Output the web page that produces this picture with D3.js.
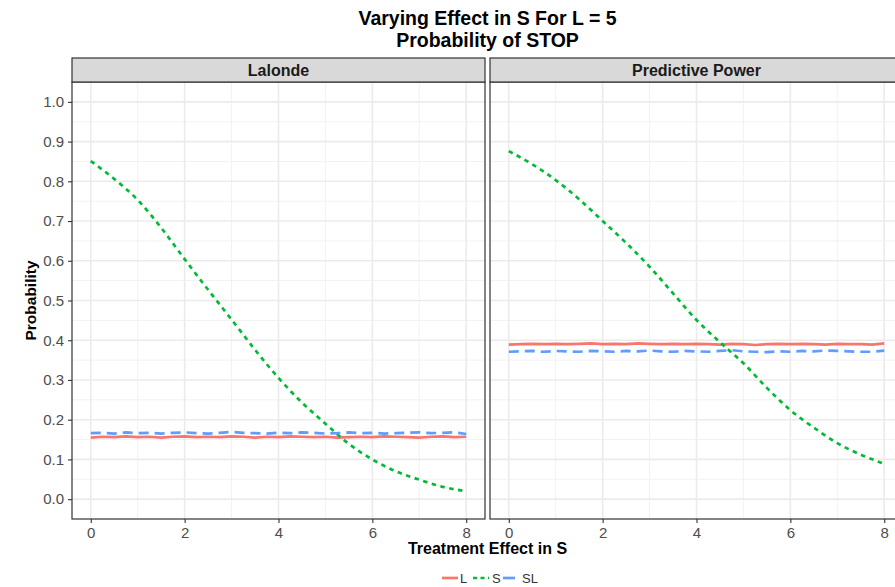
<!DOCTYPE html>
<html>
<head>
<meta charset="utf-8">
<script src="https://cdn.jsdelivr.net/npm/d3@7"></script>
<style>
  body { margin: 0; background: #fff; }
  svg { font-family: "Liberation Sans", Arial, sans-serif; display: block; }
</style>
</head>
<body>
<div id="chart"></div>
<script>
// facet names and legend categories
var facets = ["Lalonde", "Predictive Power"];
var seriesNames = ["L", "S", "SL"];

// x grid for the flat (noisy) series
var xFine = [0, 0.25, 0.5, 0.75, 1, 1.25, 1.5, 1.75, 2, 2.25, 2.5, 2.75, 3, 3.25, 3.5, 3.75,
  4, 4.25, 4.5, 4.75, 5, 5.25, 5.5, 5.75, 6, 6.25, 6.5, 6.75, 7, 7.25, 7.5, 7.75, 8];
// x grid for the S curves
var xS = [0, 0.5, 1, 1.5, 2, 2.5, 3, 3.5, 4, 4.5, 5, 5.5, 6, 6.5, 7, 7.5, 8];

// Lalonde
var lalL = [0.155,0.157,0.156,0.158,0.156,0.157,0.155,0.157,0.158,0.156,
  0.157,0.156,0.158,0.157,0.155,0.157,0.156,0.158,0.157,0.156,
  0.157,0.155,0.156,0.157,0.156,0.158,0.157,0.156,0.155,0.157,
  0.158,0.156,0.157];
var lalSL = [0.166,0.167,0.165,0.168,0.166,0.167,0.165,0.167,0.168,0.166,
  0.165,0.167,0.169,0.167,0.166,0.165,0.167,0.166,0.168,0.167,
  0.165,0.166,0.168,0.166,0.167,0.165,0.166,0.167,0.168,0.166,
  0.167,0.168,0.164];
var lalS = [0.851,0.806,0.753,0.683,0.604,0.527,0.452,0.376,0.305,0.243,0.190,0.139,0.100,0.070,0.049,0.031,0.020];

// Predictive Power
var ppL = [0.389,0.390,0.391,0.390,0.391,0.390,0.391,0.392,0.390,0.391,
  0.390,0.392,0.391,0.390,0.391,0.390,0.391,0.390,0.389,0.391,
  0.390,0.388,0.390,0.391,0.390,0.391,0.390,0.389,0.391,0.390,
  0.390,0.389,0.392];
var ppSL = [0.371,0.372,0.373,0.371,0.373,0.372,0.371,0.373,0.372,0.371,
  0.373,0.372,0.374,0.372,0.371,0.373,0.372,0.371,0.373,0.375,
  0.372,0.371,0.370,0.372,0.371,0.373,0.372,0.374,0.373,0.372,
  0.371,0.371,0.374];
var ppS = [0.876,0.843,0.803,0.755,0.700,0.645,0.585,0.518,0.451,0.395,0.342,0.280,0.224,0.180,0.141,0.112,0.089];

var xTicks = [0, 2, 4, 6, 8];
var xMinor = [1, 3, 5, 7];
var yTicks = [0, 0.1, 0.2, 0.3, 0.4, 0.5, 0.6, 0.7, 0.8, 0.9, 1.0];
var yMinor = [0.05, 0.15, 0.25, 0.35, 0.45, 0.55, 0.65, 0.75, 0.85, 0.95];

var width = 895, height = 587;
var panelW = 413, panelGap = 5;
var panelLeft = 72, panelTop = 82, panelBottom = 519, stripH = 24;

var colors = { L: "#F8766D", S: "#00BA38", SL: "#619CFF" };
var dashes = { L: null, S: "4.5,4.5", SL: "10,6" };

var panelData = [
  { name: facets[0], L: d3.zip(xFine, lalL), S: d3.zip(xS, lalS), SL: d3.zip(xFine, lalSL) },
  { name: facets[1], L: d3.zip(xFine, ppL), S: d3.zip(xS, ppS), SL: d3.zip(xFine, ppSL) }
];

var svg = d3.select("#chart").append("svg")
  .attr("width", width)
  .attr("height", height);

var y = d3.scaleLinear().domain([-0.05, 1.05]).range([panelBottom, panelTop]);

panelData.forEach(function (p, i) {
  var left = panelLeft + i * (panelW + panelGap);
  var x = d3.scaleLinear().domain([-0.4, 8.4]).range([left, left + panelW]);
  var g = svg.append("g");

  g.append("rect")
    .attr("x", left).attr("y", panelTop)
    .attr("width", panelW).attr("height", panelBottom - panelTop)
    .attr("fill", "#fff");

  // minor grid
  g.selectAll(".vminor").data(xMinor).join("line")
    .attr("x1", d => x(d)).attr("x2", d => x(d))
    .attr("y1", panelTop).attr("y2", panelBottom)
    .attr("stroke", "#F2F2F2").attr("stroke-width", 1);
  g.selectAll(".hminor").data(yMinor).join("line")
    .attr("x1", left).attr("x2", left + panelW)
    .attr("y1", d => y(d)).attr("y2", d => y(d))
    .attr("stroke", "#F2F2F2").attr("stroke-width", 1);
  // major grid
  g.selectAll(".vmajor").data(xTicks).join("line")
    .attr("x1", d => x(d)).attr("x2", d => x(d))
    .attr("y1", panelTop).attr("y2", panelBottom)
    .attr("stroke", "#EBEBEB").attr("stroke-width", 1.6);
  g.selectAll(".hmajor").data(yTicks).join("line")
    .attr("x1", left).attr("x2", left + panelW)
    .attr("y1", d => y(d)).attr("y2", d => y(d))
    .attr("stroke", "#EBEBEB").attr("stroke-width", 1.6);

  // clip lines to the panel
  svg.append("clipPath").attr("id", "clip" + i)
    .append("rect")
    .attr("x", left).attr("y", panelTop)
    .attr("width", panelW).attr("height", panelBottom - panelTop);

  var lines = g.append("g").attr("clip-path", "url(#clip" + i + ")");
  seriesNames.forEach(function (s) {
    var line = d3.line()
      .x(d => x(d[0]))
      .y(d => y(d[1]));
    if (s === "S") line.curve(d3.curveMonotoneX);
    lines.append("path")
      .datum(p[s])
      .attr("d", line)
      .attr("fill", "none")
      .attr("stroke", colors[s])
      .attr("stroke-width", 2.7)
      .attr("stroke-dasharray", dashes[s])
      .attr("stroke-linejoin", "round");
  });

  // panel border
  g.append("rect")
    .attr("x", left).attr("y", panelTop)
    .attr("width", panelW).attr("height", panelBottom - panelTop)
    .attr("fill", "none").attr("stroke", "#333").attr("stroke-width", 1.2);

  // strip
  g.append("rect")
    .attr("x", left).attr("y", panelTop - stripH)
    .attr("width", panelW).attr("height", stripH)
    .attr("fill", "#D9D9D9").attr("stroke", "#333").attr("stroke-width", 1.2);
  g.append("text")
    .attr("x", left + panelW / 2).attr("y", panelTop - stripH / 2)
    .attr("dy", "0.35em")
    .attr("text-anchor", "middle")
    .attr("font-size", "16px").attr("font-weight", "bold")
    .attr("fill", "#1A1A1A")
    .text(p.name);

  // x axis
  var xAxis = g.append("g")
    .attr("transform", "translate(0," + panelBottom + ")")
    .call(d3.axisBottom(x).tickValues(xTicks).tickSize(4).tickPadding(4).tickFormat(d3.format("d")));
  xAxis.select(".domain").remove();
  xAxis.selectAll("line").attr("stroke", "#333").attr("stroke-width", 1.1);
  xAxis.selectAll("text").attr("font-size", "15px").attr("fill", "#4D4D4D")
    .attr("font-family", "Liberation Sans, Arial, sans-serif");

  // y axis only on the first panel
  if (i === 0) {
    var yAxis = g.append("g")
      .attr("transform", "translate(" + left + ",0)")
      .call(d3.axisLeft(y).tickValues(yTicks).tickSize(4).tickPadding(4).tickFormat(d3.format(".1f")));
    yAxis.select(".domain").remove();
    yAxis.selectAll("line").attr("stroke", "#333").attr("stroke-width", 1.1);
    yAxis.selectAll("text").attr("font-size", "15px").attr("fill", "#4D4D4D")
      .attr("font-family", "Liberation Sans, Arial, sans-serif");
  }
});

// titles
var centerX = panelLeft + (2 * panelW + panelGap) / 2;
svg.append("text")
  .attr("x", centerX).attr("y", 25)
  .attr("text-anchor", "middle")
  .attr("font-size", "19.5px").attr("font-weight", "bold").attr("fill", "#000")
  .text("Varying Effect in S For L = 5");
svg.append("text")
  .attr("x", centerX).attr("y", 47)
  .attr("text-anchor", "middle")
  .attr("font-size", "19.5px").attr("font-weight", "bold").attr("fill", "#000")
  .text("Probability of STOP");

svg.append("text")
  .attr("x", centerX).attr("y", 554)
  .attr("text-anchor", "middle")
  .attr("font-size", "16px").attr("font-weight", "bold").attr("fill", "#000")
  .text("Treatment Effect in S");

svg.append("text")
  .attr("transform", "translate(36," + ((panelTop + panelBottom) / 2) + ") rotate(-90)")
  .attr("text-anchor", "middle")
  .attr("font-size", "15.5px").attr("font-weight", "bold").attr("fill", "#000")
  .text("Probability");

// legend at the bottom
var legendItems = [
  { name: "L", x: 442, tx: 460 },
  { name: "S", x: 473, tx: 492 },
  { name: "SL", x: 503, tx: 522 }
];
var legend = svg.append("g");
legend.selectAll("line").data(legendItems).join("line")
  .attr("x1", d => d.x).attr("x2", d => d.x + 16)
  .attr("y1", 578).attr("y2", 578)
  .attr("stroke", d => colors[d.name])
  .attr("stroke-width", 2.7)
  .attr("stroke-dasharray", d => d.name === "S" ? "4,3.5" : (d.name === "SL" ? "12,4" : null));
legend.selectAll("text").data(legendItems).join("text")
  .attr("x", d => d.tx).attr("y", 578)
  .attr("dy", "0.35em")
  .attr("font-size", "13px").attr("fill", "#333")
  .text(d => d.name);
</script>
</body>
</html>
